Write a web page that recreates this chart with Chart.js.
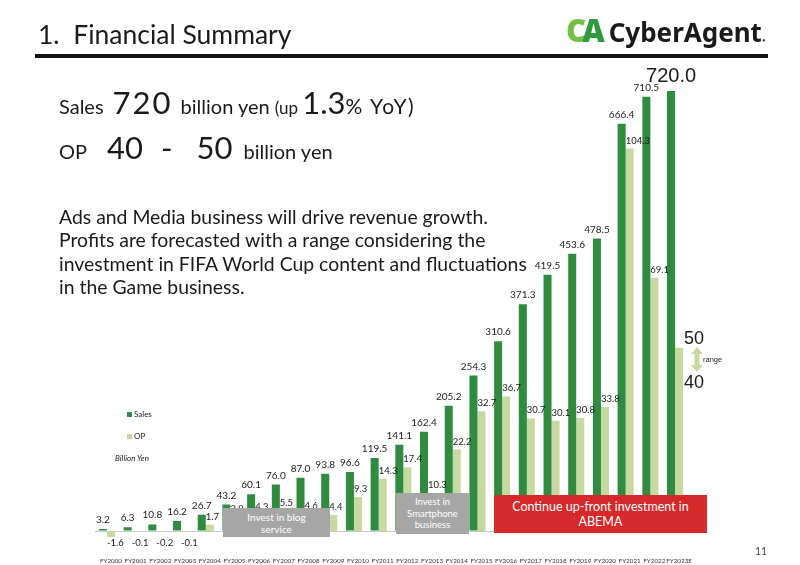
<!DOCTYPE html>
<html lang="en">
<head>
  <meta charset="UTF-8" />
  <title>Financial Summary</title>
  <script src="https://cdn.jsdelivr.net/npm/chart.js"></script>
  <style>
    html, body {
      margin: 0;
      padding: 0;
    }
    body {
      width: 800px;
      height: 565px;
      overflow: hidden;
      position: relative;
      background: #fff;
      font-family: Lato, "Noto Sans", sans-serif;
      color: #1a1a1a;
    }
    #chart {
      position: absolute;
      left: 0;
      top: 0;
    }
    .abs {
      position: absolute;
      white-space: nowrap;
    }
    .title {
      left: 38px;
      top: 18px;
      font-size: 26.5px;
      line-height: 32px;
    }
    .rule {
      left: 35px;
      top: 54px;
      width: 733px;
      height: 4px;
      background: #111;
    }
    .logo {
      left: 566px;
      top: 11px;
      line-height: 38px;
      font-family: "Noto Sans", sans-serif;
      font-weight: bold;
      font-size: 26px;
    }
    .logo .c { color: #72c043; font-size: 31px; font-weight: 900; letter-spacing: -4px; }
    .logo .a { color: #2f9a3e; font-size: 31px; font-weight: 900; margin-right: 4px; }
    .logo .reg { font-size: 6px; color: #444; }
    .head {
      left: 59px;
      font-size: 31px;
      line-height: 36px;
    }
    .s20 { font-size: 20px; }
    .s17 { font-size: 17px; }
    .big { letter-spacing: 2px; }
    .para {
      left: 59px;
      top: 205px;
      font-size: 19.4px;
      line-height: 23.3px;
    }
    .legend {
      font-size: 8px;
      line-height: 10px;
      color: #222;
    }
    .legend i {
      display: inline-block;
      width: 5px;
      height: 5px;
      margin-right: 2px;
    }
    .box {
      color: #fff;
      text-align: center;
      display: flex;
      flex-direction: column;
      justify-content: center;
    }
    .gray { background: #a6a6a6; font-size: 10px; line-height: 12px; }
    .red { background: #d7282a; font-size: 12.5px; line-height: 15px; }
    .range {
      font-family: "Liberation Sans", Arial, sans-serif;
      font-size: 18px;
      line-height: 20px;
    }
  </style>
</head>
<body>
  <canvas id="chart" width="800" height="580"></canvas>

  <div class="abs title">1.&nbsp; Financial Summary</div>
  <div class="abs rule"></div>
  <div class="abs logo"><span class="c">C</span><span class="a">A</span>CyberAgent<span class="reg">●</span></div>

  <div class="abs head" style="top:84px"><span class="s20">Sales</span><span class="big" style="margin-left:9px">720</span><span class="s20" style="margin-left:8px">billion yen </span><span class="s17">(up </span><span>1.3</span><span style="font-size:21px;letter-spacing:1.5px">% YoY)</span></div>
  <div class="abs head" style="top:129px"><span class="s20">OP</span><span style="margin-left:20px">40</span><span style="margin-left:18px">-</span><span style="margin-left:24px">50</span><span class="s20" style="margin-left:11px">billion yen</span></div>

  <div class="abs para">Ads and Media business will drive revenue growth.<br>Profits are forecasted with a range considering the<br>investment in FIFA World Cup content and fluctuations<br>in the Game business.</div>

  <div class="abs legend" style="left:127px;top:409px"><i style="background:#2e8b3f"></i>Sales</div>
  <div class="abs legend" style="left:127px;top:431px"><i style="background:#c6d9a1"></i>OP</div>
  <div class="abs legend" style="left:115px;top:453px;font-style:italic">Billion Yen</div>

  <div class="abs box gray" style="left:223px;top:508px;width:107px;height:29px">Invest in blog<br>service</div>
  <div class="abs box gray" style="left:396px;top:493px;width:73px;height:41px;font-size:9.5px;line-height:11.5px">Invest in<br>Smartphone<br>business</div>
  <div class="abs box red" style="left:494px;top:495px;width:213px;height:38px">Continue up-front investment in<br>ABEMA</div>

  <div class="abs range" style="left:684px;top:328px">50</div>
  <div class="abs range" style="left:684px;top:372px">40</div>
  <svg class="abs" style="left:690px;top:347px" width="14" height="25" viewBox="0 0 14 25">
    <polygon points="7,0 13,7 9.5,7 9.5,18 13,18 7,25 1,18 4.5,18 4.5,7 1,7" fill="#c6d9a1" />
  </svg>
  <div class="abs" style="left:703px;top:355px;font-size:7.5px;font-family:'Liberation Sans',Arial,sans-serif">range</div>

  <div class="abs" style="left:755px;top:545px;font-size:10.5px;color:#444">11</div>

  <script>
    const categories = ['FY2000', 'FY2001', 'FY2002', 'FY2003', 'FY2004', 'FY2005', 'FY2006', 'FY2007',
      'FY2008', 'FY2009', 'FY2010', 'FY2011', 'FY2012', 'FY2013', 'FY2014', 'FY2015', 'FY2016',
      'FY2017', 'FY2018', 'FY2019', 'FY2020', 'FY2021', 'FY2022', 'FY2023E'];
    // billion yen
    const sales = [3.2, 6.3, 10.8, 16.2, 26.7, 43.2, 60.1, 76.0, 87.0, 93.8, 96.6, 119.5, 141.1,
      162.4, 205.2, 254.3, 310.6, 371.3, 419.5, 453.6, 478.5, 666.4, 710.5, 720.0];
    // FY2005 value is hidden behind the blog box, FY2023E is the top of the 40-50 range
    const op = [-1.6, -0.1, -0.2, -0.1, 1.7, 3.9, 4.3, 5.5, 4.6, 4.4, 9.3, 14.3, 17.4, 10.3, 22.2,
      32.7, 36.7, 30.7, 30.1, 30.8, 33.8, 104.3, 69.1, 50.0];

    // sales axis runs 6x the OP axis
    const salesMin = -20, salesMax = 760, ratio = 6;

    const barLabels = {
      id: 'barLabels',
      afterDatasetsDraw(chart) {
        const ctx = chart.ctx;
        const last = categories.length - 1;
        const zeroY = chart.scales.y.getPixelForValue(0);
        ctx.save();
        ctx.fillStyle = '#1a1a1a';
        ctx.textAlign = 'center';
        ctx.textBaseline = 'alphabetic';
        chart.getDatasetMeta(0).data.forEach((bar, i) => {
          if (i === last) {
            ctx.font = '20px "Liberation Sans", Arial, sans-serif';
            ctx.fillText(sales[i].toFixed(1), bar.x, bar.y - 9);
          } else {
            ctx.font = '10px Lato, sans-serif';
            ctx.fillText(sales[i].toFixed(1), bar.x, bar.y - 6);
          }
        });
        ctx.textAlign = 'left';
        ctx.font = '9.5px Lato, sans-serif';
        chart.getDatasetMeta(1).data.forEach((bar, i) => {
          if (i === last) return;
          const left = bar.x - bar.width / 2;
          if (op[i] < 0) {
            ctx.textBaseline = 'top';
            ctx.fillText(op[i].toFixed(1), left, zeroY + 7);
          } else {
            ctx.textBaseline = 'alphabetic';
            ctx.fillText(op[i].toFixed(1), left, bar.y - 5);
          }
        });
        ctx.restore();
      }
    };

    new Chart(document.getElementById('chart'), {
      type: 'bar',
      data: {
        labels: categories,
        datasets: [{
          label: 'Sales',
          data: sales,
          backgroundColor: '#2e8b3f',
          yAxisID: 'y'
        }, {
          label: 'OP',
          data: op,
          backgroundColor: '#c6d9a1',
          yAxisID: 'y1'
        }]
      },
      options: {
        responsive: false,
        animation: false,
        devicePixelRatio: 1,
        categoryPercentage: 0.65,
        barPercentage: 1.0,
        layout: {
          padding: { left: 94.6, right: 112.6, top: 66.6, bottom: 1.2 }
        },
        plugins: {
          legend: { display: false },
          tooltip: { enabled: false }
        },
        scales: {
          x: {
            grid: { display: false, drawTicks: false },
            border: { display: false },
            ticks: {
              autoSkip: false,
              maxRotation: 0,
              padding: 14,
              labelOffset: 4,
              color: '#333',
              font: { family: 'Lato', size: 6.3 }
            }
          },
          y: {
            min: salesMin,
            max: salesMax,
            border: { display: false },
            grid: {
              drawTicks: false,
              color: c => (c.tick && c.tick.value === 0 ? '#c8c8c8' : 'rgba(0,0,0,0)')
            },
            ticks: { display: false, stepSize: 20 }
          },
          y1: {
            display: false,
            min: salesMin / ratio,
            max: salesMax / ratio
          }
        }
      },
      plugins: [barLabels]
    });
  </script>
</body>
</html>
